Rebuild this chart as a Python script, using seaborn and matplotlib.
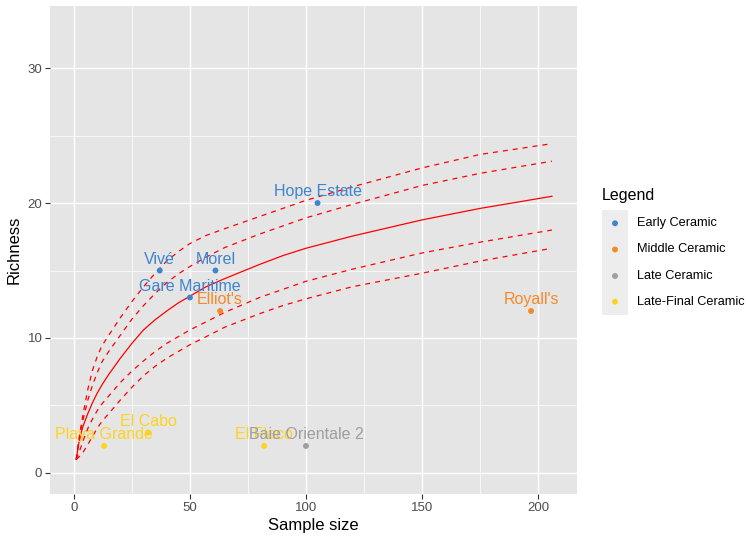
import numpy as np
import pandas as pd
import seaborn as sns
import matplotlib.pyplot as plt

# sites
sites = ["Vivé", "Morel", "Gare Maritime", "Hope Estate", "Elliot's", "Royall's",
         "Playa Grande", "El Cabo", "El Flaco", "Baie Orientale 2"]
sample_size = [37, 61, 50, 105, 63, 197, 13, 32, 82, 100]
richness = [15, 15, 13, 20, 12, 12, 2, 3, 2, 2]
period = ["Early Ceramic", "Early Ceramic", "Early Ceramic", "Early Ceramic",
          "Middle Ceramic", "Middle Ceramic",
          "Late-Final Ceramic", "Late-Final Ceramic", "Late-Final Ceramic",
          "Late Ceramic"]

periods = ["Early Ceramic", "Middle Ceramic", "Late Ceramic", "Late-Final Ceramic"]
period_colors = ["#3F84CC", "#F5892A", "#9E9E9E", "#FFD21F"]

# rarefaction curve + confidence bands
curve_x = [1, 2, 3, 4, 6, 8, 10, 12, 15, 20, 25, 30, 35, 40, 45, 50, 57, 65, 80, 90,
           100, 120, 150, 175, 206]
curve_mid = [1, 2.1, 2.9, 3.5, 4.4, 5.2, 5.9, 6.5, 7.3, 8.5, 9.6, 10.6, 11.35, 12.0, 12.6,
             13.1, 13.8, 14.4, 15.45, 16.1, 16.65, 17.55, 18.75, 19.6, 20.5]
curve_up2 = [1, 2.3, 3.4, 4.4, 6.2, 7.6, 8.6, 9.4, 10.2, 11.5, 12.7, 13.8, 14.8, 15.7, 16.4,
             17.0, 17.6, 18.1, 19.0, 19.6, 20.2, 21.2, 22.6, 23.6, 24.4]
curve_up1 = [1, 2.2, 3.2, 4.0, 5.4, 6.5, 7.4, 8.2, 9.0, 10.2, 11.4, 12.4, 13.3, 14.1, 14.75,
             15.3, 16.0, 16.7, 17.7, 18.3, 18.9, 19.9, 21.3, 22.2, 23.1]
curve_lo1 = [1, 1.45, 1.9, 2.4, 3.3, 4.0, 4.6, 5.1, 5.7, 6.7, 7.55, 8.3, 9.0, 9.6, 10.1,
             10.6, 11.2, 11.9, 13.0, 13.6, 14.2, 15.1, 16.3, 17.1, 18.0]
curve_lo2 = [1, 1.15, 1.35, 1.55, 2.1, 2.7, 3.3, 3.8, 4.4, 5.4, 6.35, 7.2, 7.9, 8.5, 9.0,
             9.5, 10.1, 10.8, 11.8, 12.4, 12.9, 13.8, 14.8, 15.7, 16.65]

df = pd.DataFrame({"site": sites, "n": sample_size, "rich": richness, "period": period})
curves = pd.DataFrame({"x": curve_x, "mid": curve_mid, "up2": curve_up2, "up1": curve_up1,
                       "lo1": curve_lo1, "lo2": curve_lo2})

plt.rcParams["font.family"] = ["Liberation Sans", "DejaVu Sans"]

fig = plt.figure(figsize=(7.46, 5.37), dpi=100)
ax = fig.add_axes([50/746, 43/537, 527/746, 488/537])
ax.set_facecolor("#E5E5E5")
for s in ax.spines.values():
    s.set_visible(False)

# grid
for v in [25, 75, 125, 175]:
    ax.axvline(v, color="white", lw=0.5, zorder=0)
for v in [5, 15, 25]:
    ax.axhline(v, color="white", lw=0.5, zorder=0)
for v in [0, 50, 100, 150, 200]:
    ax.axvline(v, color="white", lw=1.0, zorder=0)
for v in [0, 10, 20, 30]:
    ax.axhline(v, color="white", lw=1.0, zorder=0)

sns.lineplot(data=curves, x="x", y="mid", color="red", lw=0.9, ax=ax)
for col in ["up2", "up1", "lo1", "lo2"]:
    sns.lineplot(data=curves, x="x", y=col, color="red", lw=0.9,
                 linestyle=(0, (4, 4)), ax=ax)

color_map = dict(zip(periods, period_colors))
sns.scatterplot(data=df, x="n", y="rich", hue="period", hue_order=periods,
                palette=color_map, s=18, linewidth=0, legend=False, ax=ax, zorder=3)

for _, r in df.iterrows():
    ax.annotate(r["site"], (r["n"], r["rich"]), xytext=(0, 4.8), textcoords="offset points",
                ha="center", va="baseline", fontsize=11.5, color=color_map[r["period"]], zorder=4)

ax.set_xlim(-10.3, 216.8)
ax.set_ylim(-1.56, 34.6)
ax.set_xticks([0, 50, 100, 150, 200])
ax.set_yticks([0, 10, 20, 30])
ax.tick_params(length=3.5, width=0.8, color="#333333", labelcolor="#4D4D4D", labelsize=9.5, pad=2)
ax.set_xlabel("Sample size", fontsize=12, labelpad=3)
ax.set_ylabel("Richness", fontsize=12, labelpad=4)

# legend
lax = fig.add_axes([602/746, (537-315)/537, 26/746, 105/537])
lax.set_facecolor("#EDEDED")
lax.set_xlim(0, 26)
lax.set_ylim(105, 0)
lax.set_xticks([])
lax.set_yticks([])
for s in lax.spines.values():
    s.set_visible(False)
key_y = [13.3, 39.5, 66, 91.7]
lax.scatter([13]*4, key_y, c=period_colors, s=18, linewidths=0)
for yy, lab in zip(key_y, periods):
    fig.text(637/746, (537 - 210 - yy)/537, lab, va="center", fontsize=9.2, color="black")
fig.text(602/746, (537-200)/537, "Legend", va="baseline", fontsize=11.5)

fig.savefig("out.png", dpi=100)
